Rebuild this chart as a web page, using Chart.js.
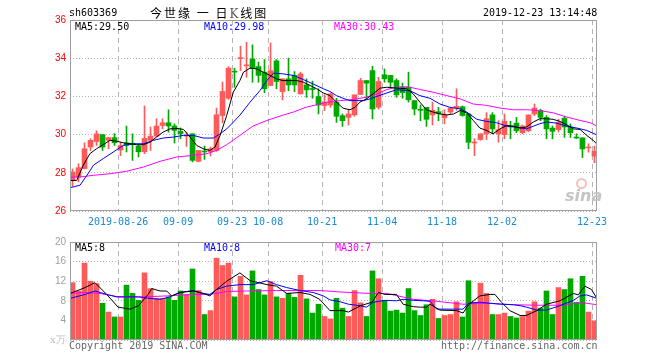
<!DOCTYPE html>
<html>
<head>
<meta charset="utf-8">
<script src="https://cdn.jsdelivr.net/npm/chart.js@4.4.0/dist/chart.umd.min.js"></script>
<style>
  body { margin: 0; background: #fff; width: 660px; height: 360px; position: relative; overflow: hidden; }
  canvas { position: absolute; left: 0; }
  .t { position: absolute; font: 10px 'DejaVu Sans Mono', monospace; line-height: 12px; white-space: pre; }
</style>
</head>
<body>
<canvas id="kChart" width="660" height="232" style="top:0"></canvas>
<canvas id="volChart" width="660" height="128" style="top:232px"></canvas>

<div class="t" style="left:69px;top:7px;color:#000">sh603369</div>
<div class="t" style="left:150px;top:4px;font:12px 'Noto Sans CJK SC';letter-spacing:2px;color:#000">今世缘 一 日<span style="color:#555;font-family:'DejaVu Serif'">K</span>线图</div>
<div class="t" style="left:483px;top:7px;color:#000">2019-12-23 13:14:48</div>

<div class="t" style="left:75px;top:21px;color:#000">MA5:29.50</div>
<div class="t" style="left:204px;top:21px;color:#0000ff">MA10:29.98</div>
<div class="t" style="left:334px;top:21px;color:#ff00ff">MA30:30.43</div>

<div class="t" style="left:75px;top:242px;color:#000">MA5:8</div>
<div class="t" style="left:204px;top:242px;color:#0000ff">MA10:8</div>
<div class="t" style="left:335px;top:242px;color:#ff00ff">MA30:7</div>

<div class="t" style="left:50px;top:334px;color:#c0c0c0;font-family:'DejaVu Serif'">x万</div>
<div class="t" style="left:69px;top:340px;color:#666">Copyright 2019 SINA.COM</div>
<div class="t" style="left:441px;top:340px;color:#666">http://finance.sina.com.cn</div>

<div style="position:absolute;left:576px;top:178px;width:7px;height:7px;border:2px solid #f7c0c0;border-radius:50%"></div>
<div class="t" style="left:565px;top:186px;font:italic bold 16px 'DejaVu Sans';color:#c4c4c4">sina</div>

<script>
// 日K: 2019-08-14 .. 2019-12-23, 88 trading days
const tickIdx = [8, 18, 27, 33, 42, 52, 62, 72, 87];
const tickLabels = ['2019-08-26', '09-09', '09-23', '10-08', '10-21', '11-04', '11-18', '12-02', '12-23'];

const open = [27.6,27.78,28.22,29.35,29.64,30.0,29.7,29.84,29.2,29.57,
  29.55,29.4,29.1,29.7,29.92,30.48,30.62,30.45,30.17,29.92,
  30.04,28.6,29.14,29.1,29.17,31.0,31.9,33.3,33.98,33.6,
  33.96,33.56,33.27,32.57,33.86,32.25,32.92,33.1,32.13,32.6,
  32.4,31.99,31.52,31.55,31.69,30.99,30.9,31.03,32.1,32.83,
  33.35,31.43,33.13,33.1,32.83,32.5,32.48,31.78,31.33,31.43,
  31.03,31.2,30.88,31.18,31.39,31.46,31.08,29.56,29.74,30.04,
  31.03,30.04,30.0,30.45,30.6,30.1,30.2,31.08,31.27,30.9,
  30.34,30.26,30.86,30.4,29.86,29.83,29.3,28.87];
const close = [28.04,28.27,29.26,29.7,30.04,29.35,29.84,29.57,29.43,29.43,
  29.47,29.1,29.8,29.92,30.45,30.62,30.45,30.22,30.04,29.97,
  28.65,29.17,29.09,29.26,31.04,32.26,33.48,33.27,34.02,33.65,
  33.48,33.1,32.4,33.35,32.78,32.92,32.6,32.6,33.18,32.34,
  32.36,31.55,31.69,32.13,30.96,30.73,31.08,32.08,32.83,32.69,
  31.34,32.78,32.92,32.74,32.08,32.2,31.82,31.34,31.27,30.8,
  31.27,31.1,31.04,31.39,31.48,31.0,29.6,29.6,30.04,30.83,
  30.3,30.26,30.7,30.4,30.2,30.45,31.03,31.39,30.9,30.3,
  30.17,30.65,30.4,30.1,29.82,29.25,29.32,29.13];
const high = [28.2,28.48,29.57,29.78,30.2,30.0,29.86,30.05,29.6,30.45,
  30.04,29.45,31.5,30.4,30.83,30.83,31.3,30.56,30.35,30.13,
  30.04,29.17,29.4,29.35,31.39,32.75,33.56,33.48,34.63,34.84,
  34.7,33.8,33.93,34.8,33.93,32.92,34.0,33.3,33.27,32.92,
  32.8,32.4,32.08,32.18,31.9,31.08,31.3,32.08,32.95,32.83,
  33.58,33.0,33.44,33.1,32.92,32.7,33.27,31.78,31.55,31.43,
  31.7,31.43,31.3,31.39,32.4,31.5,31.08,29.78,30.04,31.15,
  31.15,30.73,31.08,30.7,30.9,30.5,31.03,31.6,31.33,31.0,
  30.45,30.8,30.96,30.56,30.04,29.83,29.52,29.4];
const low = [27.3,27.52,28.2,29.17,29.43,29.17,29.26,29.43,28.9,29.09,
  28.65,28.83,29.0,29.17,29.87,30.3,30.13,29.56,29.78,29.38,
  28.57,28.57,28.7,28.88,29.12,30.62,31.84,32.48,33.35,33.0,
  32.74,32.74,32.2,32.57,32.4,31.82,32.3,32.25,32.13,31.95,
  31.9,31.08,31.26,31.43,30.64,30.43,30.5,30.96,32.1,31.87,
  30.82,31.34,32.74,32.48,31.95,31.9,31.7,31.03,30.73,30.43,
  30.5,30.73,30.56,31.1,31.27,30.96,29.26,28.9,29.7,29.74,
  30.04,29.6,29.78,29.78,30.1,30.04,30.15,30.99,30.73,29.78,
  29.78,30.13,29.85,29.85,29.8,28.8,29.08,28.53];
// 成交量 (万手)
const vol = [11.7,10.0,15.7,12.0,11.5,7.5,5.7,4.7,4.7,11.2,
  9.5,8.1,13.7,10.5,8.5,8.5,8.8,8.1,10.0,9.3,
  14.5,10.1,5.2,6.0,16.7,15.2,15.7,8.8,13.0,9.2,
  14.1,10.3,9.2,11.9,8.8,8.5,9.5,8.7,13.2,8.4,
  5.5,7.3,4.8,4.3,8.5,6.5,4.8,10.1,7.6,4.8,
  14.1,12.5,8.1,5.9,6.1,5.5,10.5,6.0,5.0,7.2,
  8.3,4.4,5.0,5.2,7.8,4.7,12.1,7.7,11.6,9.5,
  5.2,5.2,5.5,4.8,4.5,4.8,5.9,7.8,6.5,10.0,
  5.2,10.7,10.3,12.5,7.7,13.0,5.7,3.9];

// moving averages: [day index, value]
const ma5Price = [[-0.4,27.6],[0.7,27.6],[1.8,28.4],[2.9,29.0],[4.0,29.26],[5.1,29.47],[6.25,29.7],[7.4,29.65],
  [8.5,29.57],[9.6,29.52],[10.7,29.47],[11.8,29.47],[12.9,29.6],[14.0,29.87],[15.1,30.13],[16.25,30.3],
  [17.4,30.32],[18.5,30.27],[19.6,29.87],[20.7,29.43],[21.8,29.26],[22.9,29.17],[23.75,29.35],[24.6,29.96],
  [25.7,31.0],[26.8,32.22],[27.9,32.83],[28.5,33.27],[29.6,33.48],[30.7,33.44],[31.8,33.27],[32.9,33.1],
  [34.0,32.92],[35.1,32.83],[36.25,32.83],[37.4,32.83],[38.5,32.74],[39.6,32.57],[40.7,32.4],[41.8,32.18],
  [42.9,32.04],[44.0,31.7],[45.1,31.38],[46.25,31.3],[47.1,31.43],[47.9,31.7],[49.0,31.87],[50.1,32.13],
  [51.25,32.43],[52.4,32.48],[53.5,32.45],[54.6,32.42],[55.7,32.4],[56.8,32.13],[57.9,31.7],[59.0,31.3],
  [60.1,31.18],[61.25,31.08],[62.4,31.03],[63.5,31.08],[64.6,31.26],[65.7,31.14],[66.8,30.74],[67.9,30.34],
  [69.0,30.22],[70.1,30.04],[71.25,30.3],[72.4,30.48],[73.5,30.44],[74.6,30.34],[75.7,30.4],[76.8,30.66],
  [77.9,30.83],[79.0,30.83],[80.1,30.8],[81.25,30.69],[82.4,30.51],[83.5,30.3],[84.6,30.27],[85.7,29.96],
  [86.8,29.7],[87.4,29.5]];
const ma10Price = [[-0.4,27.22],[1.25,27.35],[2.4,27.87],[3.5,28.4],[5.1,28.74],[6.8,29.09],[8.5,29.44],
  [10.1,29.52],[11.8,29.52],[13.5,29.7],[15.1,29.82],[16.8,29.87],[18.5,29.96],[20.1,29.96],[21.8,29.82],
  [23.5,29.82],[24.6,30.04],[25.7,30.3],[26.8,30.65],[27.9,31.02],[29.6,31.7],[31.25,32.31],[32.4,32.83],
  [33.5,33.22],[35.1,33.18],[36.8,33.1],[38.5,32.88],[40.1,32.65],[41.8,32.4],[42.9,32.26],[44.0,32.04],
  [45.1,31.9],[46.25,31.78],[47.4,31.78],[48.5,31.78],[49.6,31.87],[50.7,32.0],[52.4,32.18],[54.0,32.35],
  [56.25,32.3],[57.9,32.04],[59.6,31.9],[61.25,31.6],[62.9,31.43],[64.6,31.35],[65.7,31.18],[67.4,30.8],
  [69.0,30.69],[70.7,30.62],[72.4,30.44],[74.0,30.39],[75.7,30.3],[76.8,30.44],[77.9,30.57],[79.0,30.66],
  [80.7,30.6],[82.4,30.44],[84.1,30.34],[85.7,30.22],[87.4,29.98]];
const ma30Price = [[-0.4,27.78],[1.25,27.78],[3.5,27.87],[6.25,27.95],[9.0,28.08],[11.8,28.3],[14.6,28.6],
  [17.4,28.83],[20.1,28.91],[22.4,29.0],[24.0,29.17],[25.7,29.47],[27.9,29.96],[30.1,30.45],[32.4,30.74],
  [34.6,30.97],[36.8,31.18],[39.0,31.44],[40.7,31.56],[42.4,31.7],[44.6,31.78],[46.8,31.84],[49.0,31.96],
  [50.7,32.13],[52.4,32.36],[54.0,32.48],[56.0,32.5],[57.9,32.36],[60.1,32.22],[62.4,32.04],[64.6,31.87],
  [66.8,31.6],[69.0,31.53],[71.25,31.39],[73.5,31.3],[75.7,31.3],[77.9,31.26],[80.1,31.14],[82.4,30.92],
  [84.6,30.74],[86.3,30.62],[87.4,30.45]];

const ma5Vol = [[-0.4,9.5],[2.1,10.7],[3.75,11.7],[5.7,9.3],[7.6,6.7],[9.6,6.3],[11,7.0],[12.6,9.3],[13.2,10.5],
  [14.6,10],[15.7,10],[16.5,9.0],[17.9,9.7],[20.1,10],[21.8,9.5],[22.9,9.0],[24,10.3],[25.7,12],[27.9,13.7],
  [29.6,12.1],[32.4,11.3],[34,11.0],[35.7,9.5],[37.9,9.7],[39.6,9.3],[41.2,8.3],[42.9,6.0],[45.1,6.0],[46,5.7],
  [48,7.0],[49.9,7.7],[51,9.7],[52.1,9.3],[54,9.3],[55.1,7.3],[56.8,6.8],[58,6.7],[59,6.7],[59.6,7.3],
  [61.25,6.1],[64,6.0],[65.1,5.5],[66,7.2],[67.9,9.0],[69.6,9.3],[70.4,9.3],[71.5,7.7],[72.9,6.0],[74.6,5.0],
  [75.6,5.0],[77.4,6.0],[79,7.3],[81.25,8.0],[83.5,9.5],[84.3,9.2],[85.4,11],[86.5,10.3],[87.4,8.5]];
const ma10Vol = [[-0.4,8.5],[2.1,9.3],[3.75,10],[5.7,9.3],[7.4,8.8],[9.0,8.8],[11,8.8],[12.9,8.5],[14.6,8.3],
  [16.25,8.8],[17.9,9.7],[20.1,10.1],[21.8,9.5],[22.9,9.3],[24,10.3],[25.7,11],[27.9,11.3],[30.1,11.3],
  [32.4,12.1],[34,11.3],[35.7,10.7],[37.9,10.1],[40.1,9.7],[41.8,9.0],[42.9,8.2],[44.6,7.8],[46,7.3],[48,7.0],
  [49,6.7],[50.1,7.7],[52.1,8.1],[54,8.0],[55.1,8.3],[56.8,8.1],[58.5,8.0],[59.6,7.9],[60.7,6.3],[63.5,6.3],
  [65.1,6.3],[66,7.5],[67.9,7.7],[69.6,7.5],[71.5,7.3],[73.5,7.2],[74.6,7.0],[75.7,6.7],[77.4,6.1],[79,6.1],
  [81.25,7.0],[83.5,8.1],[84.6,9.0],[85.7,9.2],[87.4,8.5]];
const ma30Vol = [[-0.4,9.5],[2.1,9.7],[4.6,9.5],[7.6,8.8],[11.8,8.8],[15.7,9.0],[20.1,9.3],[22.9,9.3],[25.7,9.9],
  [29,10],[34,10.1],[37.9,10.1],[41.2,10.1],[44.6,9.8],[49.6,9.5],[52.4,9.5],[56.8,8.3],[60.7,7.9],[65.1,7.3],
  [69.0,7.5],[73.5,7.2],[77.4,7.1],[81.25,7.1],[85.1,7.6],[87.4,7.2]];

const UP = '#ff5a5a';
const DOWN = '#00a800';
const candleColors = open.map((o, i) => close[i] >= o ? UP : DOWN);
const MONO = "'DejaVu Sans Mono', monospace";
const SANS = "'Liberation Sans', sans-serif";

const frame = {
  id: 'frame',
  afterDraw(chart) {
    const { ctx, chartArea: a } = chart;
    ctx.save();
    ctx.strokeStyle = '#a0a0a0';
    ctx.lineWidth = 1;
    ctx.strokeRect(Math.round(a.left) + 0.5, Math.round(a.top) + 0.5,
      Math.round(a.right - a.left) - 1, Math.round(a.bottom - a.top) - 1);
    ctx.restore();
  }
};

function maLine(points, color) {
  return {
    type: 'line',
    data: points.map(p => ({ x: p[0], y: p[1] })),
    borderColor: color,
    borderWidth: 1,
    pointRadius: 0,
    tension: 0,
    order: 0,
  };
}

function xAxis(showLabels, height) {
  return {
    type: 'linear',
    min: -0.42,
    max: 87.42,
    offset: false,
    afterBuildTicks: (axis) => { axis.ticks = tickIdx.map(v => ({ value: v - 0.4 })); },
    afterFit: (axis) => { axis.height = height; },
    ticks: {
      display: showLabels,
      autoSkip: false,
      maxRotation: 0,
      padding: 5,
      color: '#1a8bd6',
      font: { family: MONO, size: 10 },
      callback: (v, i) => tickLabels[i],
    },
    grid: { offset: false, color: '#b4b4b4', drawTicks: false },
    border: { display: false, dash: [5, 4] },
  };
}

new Chart(document.getElementById('kChart'), {
  type: 'bar',
  data: {
    datasets: [
      maLine(ma5Price, '#000000'),
      maLine(ma10Price, '#0000ff'),
      maLine(ma30Price, '#ff00ff'),
      {
        label: 'body',
        data: open.map((o, i) => ({ x: i, y: [o, close[i]] })),
        backgroundColor: candleColors,
        barThickness: 5,
        minBarLength: 1,
        grouped: false,
        order: 1,
      },
      {
        label: 'wick',
        data: low.map((l, i) => ({ x: i, y: [l, high[i]] })),
        backgroundColor: candleColors,
        barThickness: 1,
        grouped: false,
        order: 2,
      },
    ],
  },
  options: {
    responsive: false,
    animation: false,
    layout: { padding: { top: 20, right: 63, left: 0, bottom: 0 } },
    plugins: { legend: { display: false }, tooltip: { enabled: false } },
    scales: {
      x: xAxis(true, 21),
      y: {
        min: 26,
        max: 36,
        afterFit: (axis) => { axis.width = 70; },
        ticks: { stepSize: 2, color: '#ff0000', padding: 4, font: { family: SANS, size: 10 } },
        grid: { color: '#b4b4b4', drawTicks: false },
        border: { display: false, dash: [1, 2] },
      },
    },
  },
  plugins: [frame],
});

new Chart(document.getElementById('volChart'), {
  type: 'bar',
  data: {
    datasets: [
      maLine(ma5Vol, '#000000'),
      maLine(ma10Vol, '#0000ff'),
      maLine(ma30Vol, '#ff00ff'),
      {
        label: 'vol',
        data: vol.map((v, i) => ({ x: i, y: v })),
        backgroundColor: candleColors,
        barThickness: 5,
        grouped: false,
        order: 1,
      },
    ],
  },
  options: {
    responsive: false,
    animation: false,
    layout: { padding: { top: 9, right: 63, left: 0, bottom: 20 } },
    plugins: { legend: { display: false }, tooltip: { enabled: false } },
    scales: {
      x: xAxis(false, 0),
      y: {
        min: 0,
        max: 20,
        afterFit: (axis) => { axis.width = 70; },
        ticks: {
          stepSize: 4,
          color: '#a0a0a0',
          padding: 4,
          font: { family: SANS, size: 10 },
          callback: (v) => v === 0 ? '' : v,
        },
        grid: { color: '#b4b4b4', drawTicks: false },
        border: { display: false, dash: [1, 2] },
      },
    },
  },
  plugins: [frame],
});
</script>
</body>
</html>
